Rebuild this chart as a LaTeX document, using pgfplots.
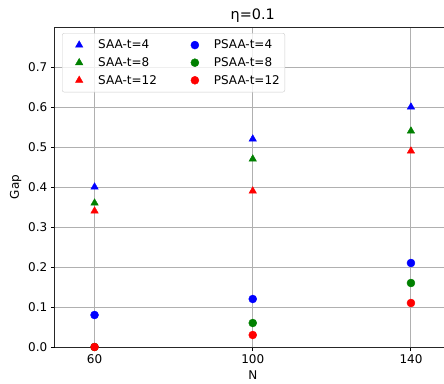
\documentclass[border=0pt]{standalone}
\usepackage{fontspec}
\setmainfont{DejaVu Sans}
\usepackage{pgfplots}
\pgfplotsset{compat=1.18}
\definecolor{mgreen}{RGB}{0,128,0}
\pgfplotsset{
  myleg/.style={legend image code/.code={%
    \path[draw=none, fill=none] (-14pt,0pt) -- (17pt,0pt);
    \draw[##1, fill opacity=1, draw opacity=1] plot coordinates {(0pt,0pt)};}},
}
\begin{document}
\begin{tikzpicture}
\path[use as bounding box] (0,0) rectangle (444pt,383pt);
\begin{axis}[
  at={(55pt,36pt)}, anchor=south west,
  scale only axis, width=395.5pt, height=320pt,
  xmin=50, xmax=150, ymin=0, ymax=0.8,
  xtick={60,100,140}, ytick={0,0.1,0.2,0.3,0.4,0.5,0.6,0.7},
  /pgf/number format/assume math mode=true,
  yticklabel style={/pgf/number format/.cd, fixed, fixed zerofill, precision=1},
  ticklabel style={font=\fontsize{12}{14}\selectfont},
  label style={font=\fontsize{12}{14}\selectfont},
  title style={font=\fontsize{14.4}{17}\selectfont, yshift=-5pt},
  title={η=0.1},
  xlabel={N}, ylabel={Gap},
  ylabel style={xshift=0pt},
  axis x line*=box, axis y line*=left,
  xtick pos=bottom, ytick pos=left,
  tick align=outside, major tick length=4.2pt,
  tick style={black, line width=1pt},
  axis line style={black!85, line width=1pt},
  grid=major, major grid style={color=black!31, line width=1pt},
  clip=true,
  legend columns=2,
  legend cell align=left,
  legend style={at={(0.0177,0.981)}, anchor=north west, font=\fontsize{12}{14}\selectfont,
    draw=black!20, rounded corners=2pt, fill=white, fill opacity=0.8, text opacity=1,
    inner xsep=3pt, inner ysep=3pt,
    nodes={inner ysep=3.6pt},
    /tikz/every even column/.append style={column sep=22pt},
    row sep=0pt},
]
\addplot[only marks, mark=triangle*, mark size=4.3pt, color=blue, myleg] coordinates {(60,0.40) (100,0.52) (140,0.60)};
\addlegendentry{SAA-t=4}
\addplot[only marks, mark=*, mark size=4pt, color=blue, myleg] coordinates {(60,0.08) (100,0.12) (140,0.21)};
\addlegendentry{PSAA-t=4}
\addplot[only marks, mark=triangle*, mark size=4.3pt, color=mgreen, myleg] coordinates {(60,0.36) (100,0.47) (140,0.54)};
\addlegendentry{SAA-t=8}
\addplot[only marks, mark=*, mark size=4pt, color=mgreen, myleg] coordinates {(60,0.0) (100,0.06) (140,0.16)};
\addlegendentry{PSAA-t=8}
\addplot[only marks, mark=triangle*, mark size=4.3pt, color=red, myleg] coordinates {(60,0.34) (100,0.39) (140,0.49)};
\addlegendentry{SAA-t=12}
\addplot[only marks, mark=*, mark size=4pt, color=red, myleg] coordinates {(60,0.0) (100,0.03) (140,0.11)};
\addlegendentry{PSAA-t=12}
\end{axis}
\end{tikzpicture}
\end{document}
